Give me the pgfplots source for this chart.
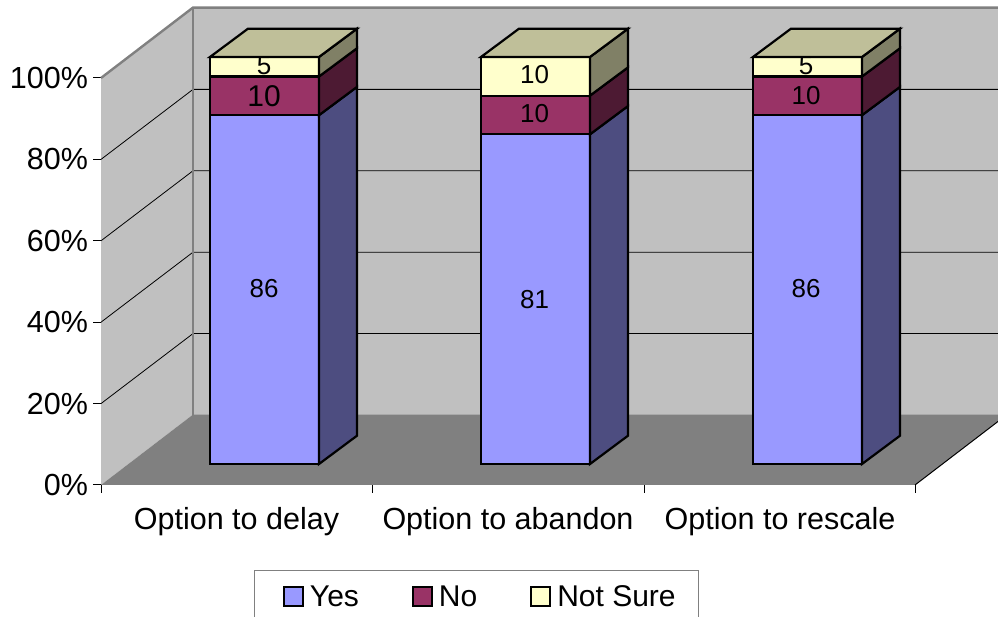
\documentclass[border=0pt]{standalone}
\usepackage{fontspec}
\setmainfont{Liberation Sans}
\usepackage{pgfplots}
\pgfplotsset{compat=1.18}

\definecolor{wall}{HTML}{C0C0C0}
\definecolor{floorc}{HTML}{808080}
\definecolor{yescol}{HTML}{9999FF}
\definecolor{nocol}{HTML}{993366}
\definecolor{nscol}{HTML}{FFFFCC}
\definecolor{yesside}{HTML}{4D4D80}
\definecolor{noside}{HTML}{4D1A33}
\definecolor{nsside}{HTML}{808066}
\definecolor{nstop}{HTML}{BFBF99}

\tikzset{big/.style={font=\fontsize{30.5}{30.5}\selectfont}}
\pgfplotsset{
  squarekey/.style={legend image code/.code={
    \path (0pt,0pt);
    \draw[##1, line width=1.8pt] (7.5pt,-9.5pt) rectangle (26.5pt,9.5pt);}},
  full/.style={scale only axis, width=998pt, height=617pt, at={(0pt,0pt)},
    anchor=south west, xmin=0, xmax=998, ymin=-37.59, ymax=114, hide axis, clip=false},
  box/.style={draw=black, line width=2.2pt, line join=miter, fill=#1, forget plot},
  lab/.style={only marks, mark=none, forget plot, nodes near coords,
    point meta=explicit symbolic,
    nodes near coords style={anchor=center, inner sep=0pt, text=black, font=\fontsize{#1}{#1}\selectfont}},
}

\begin{document}
\begin{tikzpicture}
\path[use as bounding box, clip] (0pt,0pt) rectangle (998pt,617pt);

% walls, floor, y axis and category labels
\begin{axis}[
  scale only axis, width=814pt, height=407pt,
  at={(101pt,132pt)}, anchor=south west,
  xmin=101, xmax=915, ymin=0, ymax=100, clip=false,
  axis x line=bottom, axis y line=left,
  axis line style={-, black, line width=1pt},
  tick align=outside, major tick length=8pt,
  tick style={black, line width=1pt},
  ytick={0,20,40,60,80,100},
  yticklabel={\pgfmathprintnumber[assume math mode=true]{\tick}\%},
  yticklabel style={big, xshift=-1.5pt},
  xtick={101,372,644,915}, xticklabels={},
  extra x ticks={236.5,508,780},
  extra x tick labels={Option to delay,Option to abandon,Option to rescale},
  extra x tick style={major tick length=0pt, xticklabel style={big, yshift=-19pt}},
]
\addplot[draw=none, fill=wall, forget plot] coordinates {(101,0)(193,17.3)(193,117.3)(101,100)} --cycle;
\addplot[draw=none, fill=wall, forget plot] coordinates {(193,17.3)(1007,17.3)(1007,117.3)(193,117.3)} --cycle;
\addplot[draw=none, fill=floorc, forget plot] coordinates {(101,0)(915,0)(1007,17.3)(193,17.3)} --cycle;
\addplot[black, line width=0.8pt, forget plot] coordinates {(101,20)(193,37.2)(1007,37.2)};
\addplot[black, line width=0.8pt, forget plot] coordinates {(101,40)(193,57.2)(1007,57.2)};
\addplot[black, line width=0.8pt, forget plot] coordinates {(101,60)(193,77.2)(1007,77.2)};
\addplot[black, line width=0.8pt, forget plot] coordinates {(101,80)(193,97.2)(1007,97.2)};
\addplot[floorc, line width=2.4pt, forget plot] coordinates {(101,100)(193,117.3)(1007,117.3)};
\addplot[floorc, line width=2.4pt, forget plot] coordinates {(193,117.3)(193,17.3)};
\addplot[black, line width=1pt, forget plot] coordinates {(915,0)(1007,17.3)};
\end{axis}

% bar fronts and legend
\begin{axis}[
  full, ybar stacked, bar width=109pt,
  legend style={at={(0.2545,0.0762)}, anchor=north west, draw=floorc, line width=1pt,
    fill=white, legend columns=3, font=\fontsize{30}{30}\selectfont,
    inner xsep=21pt, inner ysep=13pt,
    /tikz/every odd column/.append style={column sep=4pt},
    /tikz/every even column/.append style={column sep=43.5pt}},
  legend cell align=left,
]
\addplot[draw=black, line width=2.2pt, fill=yescol, squarekey] coordinates {(264.5,85.7)(535.5,81)(807.5,85.7)};
\addplot[draw=black, line width=2.2pt, fill=nocol, squarekey] coordinates {(264.5,9.5)(535.5,9.5)(807.5,9.5)};
\addplot[draw=black, line width=2.2pt, fill=nscol, squarekey] coordinates {(264.5,4.8)(535.5,9.5)(807.5,4.8)};
\legend{Yes,No,Not Sure}
\end{axis}

% bar sides, tops and value labels
\begin{axis}[full]
\addplot[box=yesside] coordinates {(319,0)(357,6.95)(357,92.65)(319,85.7)} --cycle;
\addplot[box=noside] coordinates {(319,85.7)(357,92.65)(357,102.15)(319,95.2)} --cycle;
\addplot[box=nsside] coordinates {(319,95.2)(357,102.15)(357,106.95)(319,100)} --cycle;
\addplot[box=nstop] coordinates {(210,100)(319,100)(357,106.95)(248,106.95)} --cycle;
\addplot[box=yesside] coordinates {(590,0)(628,6.95)(628,87.95)(590,81)} --cycle;
\addplot[box=noside] coordinates {(590,81)(628,87.95)(628,97.45)(590,90.5)} --cycle;
\addplot[box=nsside] coordinates {(590,90.5)(628,97.45)(628,106.95)(590,100)} --cycle;
\addplot[box=nstop] coordinates {(481,100)(590,100)(628,106.95)(519,106.95)} --cycle;
\addplot[box=yesside] coordinates {(862,0)(900,6.95)(900,92.65)(862,85.7)} --cycle;
\addplot[box=noside] coordinates {(862,85.7)(900,92.65)(900,102.15)(862,95.2)} --cycle;
\addplot[box=nsside] coordinates {(862,95.2)(900,102.15)(900,106.95)(862,100)} --cycle;
\addplot[box=nstop] coordinates {(753,100)(862,100)(900,106.95)(791,106.95)} --cycle;
\addplot[lab=26] coordinates {(264,43)[86] (264,97.8)[5] (534.5,40.5)[81] (534.5,86)[10] (534.5,95.6)[10] (806,43)[86] (806,90.4)[10] (806,97.8)[5]};
\addplot[lab=30] coordinates {(264,90.4)[10]};
\end{axis}
\end{tikzpicture}
\end{document}
